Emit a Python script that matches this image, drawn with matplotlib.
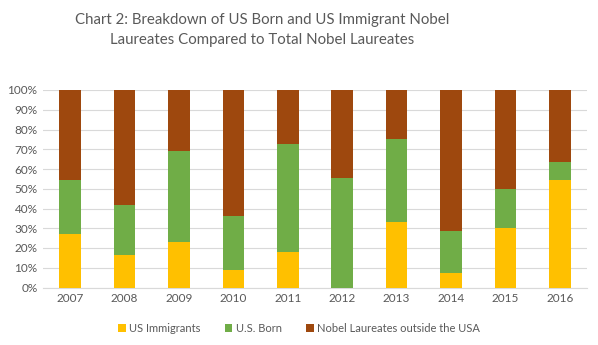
import matplotlib.pyplot as plt
import numpy as np

years = ["2007", "2008", "2009", "2010", "2011", "2012", "2013", "2014", "2015", "2016"]
us_immigrants = [27.0, 16.4, 23.1, 8.8, 18.0, 0.0, 33.2, 7.4, 30.2, 54.4]
us_born = [27.4, 25.3, 46.1, 27.3, 54.6, 55.5, 42.0, 21.1, 19.6, 9.3]
outside_usa = [100 - a - b for a, b in zip(us_immigrants, us_born)]

colors = ["#FFC000", "#70AD47", "#9E480E"]
labels = ["US Immigrants", "U.S. Born", "Nobel Laureates outside the USA"]

plt.rcParams['font.family'] = ['Lato', 'DejaVu Sans']

fig = plt.figure(figsize=(5.98, 3.45), dpi=100)
ax = fig.add_axes([43 / 598, 1 - 287.5 / 345, 544 / 598, 197.5 / 345])

x = np.arange(len(years))
bottom = np.zeros(len(years))
for vals, c, lab in zip([us_immigrants, us_born, outside_usa], colors, labels):
    ax.bar(x, vals, width=0.4, bottom=bottom, color=c, label=lab, zorder=3)
    bottom += np.array(vals)

ax.set_xlim(-0.5, len(years) - 0.5)
ax.set_ylim(0, 100)
ax.set_yticks(np.arange(0, 101, 10))
ax.set_yticklabels([f"{v}%" for v in range(0, 101, 10)])
ax.set_xticks(x)
ax.set_xticklabels(years)
ax.grid(axis='y', color='#D9D9D9', linewidth=0.8, zorder=0)
for s in ['top', 'right', 'left']:
    ax.spines[s].set_visible(False)
ax.spines['bottom'].set_color('#D9D9D9')
ax.tick_params(axis='both', length=0, labelsize=8.5, colors='#595959', pad=4)

fig.text(262 / 598, 1 - 30 / 345,
         "Chart 2: Breakdown of US Born and US Immigrant Nobel\nLaureates Compared to Total Nobel Laureates",
         fontsize=10.8, color='#595959', ha='center', va='center', linespacing=1.6)

fig.legend(loc='center', bbox_to_anchor=(0.5, 1 - 328 / 345), ncol=3, frameon=False,
           fontsize=8, handlelength=0.7, handleheight=0.7, handletextpad=0.3,
           columnspacing=2.2, labelcolor='#595959')

fig.savefig("out.png", dpi=100)
